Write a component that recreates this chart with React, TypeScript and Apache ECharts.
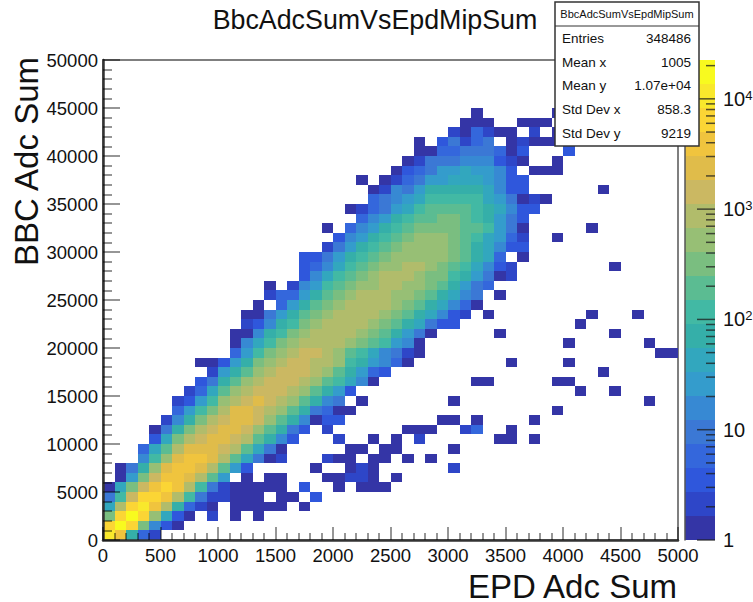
import React, { useEffect, useRef } from "react";
import * as echarts from "echarts";

const FONT = "'Liberation Sans', Arial, sans-serif";
const chartTitle = "BbcAdcSumVsEpdMipSum";
const xTitle = "EPD Adc Sum";
const yTitle = "BBC Adc Sum";
const statLabels = ["Entries", "Mean x", "Mean y", "Std Dev x", "Std Dev y"];
const statValues = ["348486", "1005", "1.07e+04", "858.3", "9219"];

const BIN_X = 100;
const BIN_Y = 1000;
const Z_MAX = 22500;
const LEVELS = 20;

const palette = [
  "#3435A6", "#2E46C8", "#2F57DC", "#3467DC", "#3B78D5", "#3789D3", "#349CCC",
  "#32A7BE", "#35AFA9", "#42B9A4", "#5BBC92", "#7ABE80", "#97BF75", "#B1BC6B",
  "#CBB862", "#E0BC4A", "#F0C43E", "#FBD535", "#F9E82C", "#F8FA1F",
];

// Each row lists segments [first column, colour level of each following bin]
const r00 = [[0, 18, 16, 8, 3, 1]];
const r01 = [[0, 17, 19, 17, 11, 5, 2, 0]];
const r02 = [[0, 11, 17, 19, 17, 12, 7, 2, 0], [9, 1], [11, 0], [13, 0]];
const r03 = [[0, 7, 13, 17, 18, 16, 13, 8, 3, 1, 0], [11, 0, 0, 0, 0, 0], [17, 0]];
const r04 = [[0, 4, 9, 14, 17, 17, 16, 13, 9, 4, 1, 1, 0, 0, 0], [15, 0, 0], [18, 2]];
const r05 = [[0, 0, 7, 11, 14, 16, 17, 16, 13, 9, 4, 1, 0, 0, 0, 0, 0], [17, 2], [20, 0], [22, 0, 0, 0]];
const r06 = [[1, 0, 6, 11, 14, 16, 16, 15, 13, 10, 6], [12, 0], [14, 0, 0], [19, 0, 0, 1, 1, 0], [25, 0]];
const r07 = [[1, 0, 4, 8, 12, 15, 16, 16, 15, 13, 10, 6, 2], [18, 0], [21, 0, 1, 0], [30, 1]];
const r08 = [[3, 5, 9, 12, 15, 16, 16, 15, 13, 10, 7, 4, 0, 1], [19, 1, 0, 0], [23, 0, 0], [26, 0], [28, 0]];
const r09 = [[3, 3, 7, 10, 13, 15, 15, 15, 14, 13, 10, 7, 4, 0], [21, 0, 0], [24, 0, 0], [30, 0]];
const r10 = [[4, 2, 7, 11, 13, 14, 15, 15, 14, 13, 10, 8, 5, 2], [20, 1], [23, 0], [25, 0], [27, 1], [34, 0, 0], [37, 0]];
const r11 = [[4, 0, 4, 8, 11, 13, 14, 15, 15, 14, 12, 10, 8, 4, 2], [19, 1], [26, 0, 0, 0], [31, 1, 3], [35, 0]];
const r12 = [[5, 1, 5, 8, 11, 13, 14, 15, 15, 14, 12, 10, 8, 5, 0, 2, 2], [29, 0, 0], [32, 0], [37, 0]];
const r13 = [[6, 3, 6, 9, 11, 13, 15, 15, 14, 13, 12, 10, 8, 4, 3, 0, 0], [39, 0]];
const r14 = [[6, 1, 2, 6, 9, 12, 13, 14, 15, 14, 13, 12, 10, 8, 5, 4], [22, 0], [30, 0], [47, 0]];
const r15 = [[7, 1, 3, 7, 10, 12, 13, 14, 14, 14, 13, 12, 10, 8, 6, 2], [41, 0], [44, 0]];
const r16 = [[8, 2, 4, 8, 10, 12, 13, 14, 14, 14, 13, 12, 10, 9, 7, 5, 0], [32, 0, 0], [39, 0, 0]];
const r17 = [[9, 1, 6, 8, 10, 12, 13, 14, 14, 14, 13, 12, 10, 8, 6, 3, 2], [43, 0]];
const r18 = [[8, 0, 0, 2, 6, 8, 11, 12, 13, 14, 14, 13, 13, 12, 9, 8, 6, 5, 3, 0], [35, 0], [40, 0]];
const r19 = [[11, 3, 6, 9, 11, 12, 13, 14, 14, 13, 12, 10, 9, 7, 5, 4, 1, 0], [48, 0, 0]];
const r20 = [[11, 0, 5, 7, 9, 11, 12, 13, 13, 13, 13, 12, 11, 10, 9, 6, 5, 0], [40, 0], [47, 0]];
const r21 = [[11, 0, 0, 5, 8, 9, 11, 12, 13, 13, 13, 13, 12, 11, 10, 8, 6, 4, 0], [34, 0], [44, 0]];
const r22 = [[12, 1, 2, 5, 8, 9, 11, 12, 13, 13, 13, 13, 12, 11, 10, 8, 7, 4, 2, 2], [41, 0]];
const r23 = [[12, 0, 0, 4, 6, 8, 10, 11, 12, 13, 13, 13, 13, 12, 11, 10, 8, 7, 5, 2, 1], [33, 0], [42, 0], [46, 0]];
const r24 = [[13, 0], [15, 3, 6, 8, 10, 11, 12, 13, 13, 13, 13, 12, 11, 10, 8, 7, 5, 3, 0]];
const r25 = [[14, 1, 3, 3, 6, 8, 10, 11, 12, 13, 13, 13, 12, 12, 11, 10, 8, 7, 5, 4], [34, 0]];
const r26 = [[14, 0], [16, 1, 5, 6, 9, 10, 11, 12, 12, 13, 13, 12, 12, 11, 10, 8, 6, 4, 3]];
const r27 = [[17, 2, 5, 7, 9, 10, 11, 12, 13, 13, 13, 12, 11, 11, 9, 8, 6, 4, 0, 1]];
const r28 = [[17, 2, 3, 5, 7, 9, 10, 11, 12, 12, 13, 13, 12, 11, 10, 9, 7, 5, 2, 1], [44, 0]];
const r29 = [[17, 2, 2, 4, 6, 8, 9, 10, 11, 12, 12, 12, 12, 12, 11, 10, 8, 7, 3], [36, 0]];
const r30 = [[19, 1, 4, 6, 8, 9, 10, 11, 12, 12, 12, 12, 11, 10, 8, 7, 5, 2, 2]];
const r31 = [[20, 2, 5, 6, 8, 9, 10, 11, 12, 12, 12, 11, 10, 9, 7, 6, 3, 1], [39, 0]];
const r32 = [[19, 0], [21, 3, 5, 6, 8, 9, 10, 11, 11, 11, 11, 10, 10, 9, 6, 4, 0], [42, 0]];
const r33 = [[22, 3, 5, 6, 8, 9, 10, 10, 11, 11, 10, 9, 8, 6, 4, 2]];
const r34 = [[21, 0, 1, 3, 4, 6, 7, 9, 10, 10, 10, 10, 9, 8, 7, 5, 2, 2]];
const r35 = [[23, 3, 4, 5, 6, 7, 9, 9, 9, 9, 9, 7, 6, 4, 0, 1, 0]];
const r36 = [[23, 0, 1, 5, 4, 6, 8, 8, 8, 8, 8, 7, 5, 2, 2], [43, 0]];
const r37 = [[22, 0], [24, 0, 1, 3, 4, 6, 6, 7, 7, 7, 6, 5, 2, 2]];
const r38 = [[25, 0, 2, 3, 4, 6, 6, 7, 6, 6, 5, 2], [37, 0, 0, 0]];
const r39 = [[26, 0, 1, 4, 4, 4, 5, 5, 5, 2, 1, 0], [39, 0]];
const r40 = [[27, 0, 0, 3, 3, 4, 4, 4, 3, 0, 2], [40, 2]];
const r41 = [[27, 0], [29, 2, 4, 1, 3, 4], [35, 0, 1, 0, 0, 0]];
const r42 = [[30, 1, 0, 3, 1, 0, 0], [37, 1], [39, 0]];
const r43 = [[31, 0, 0, 0], [36, 0, 0, 0]];
const r44 = [[32, 0], [39, 0]];

const rows = [
  r00, r01, r02, r03, r04, r05, r06, r07, r08, r09, r10, r11, r12, r13, r14,
  r15, r16, r17, r18, r19, r20, r21, r22, r23, r24, r25, r26, r27, r28, r29,
  r30, r31, r32, r33, r34, r35, r36, r37, r38, r39, r40, r41, r42, r43, r44,
];

const step = Math.log10(Z_MAX) / LEVELS;
const levelCount = (b: number) => Math.round(Math.pow(10, (b + 0.5) * step));
const countLevel = (c: number) => Math.min(LEVELS - 1, Math.floor(Math.log10(c) / step));

const cells: number[][] = [];
rows.forEach((segments, r) => {
  segments.forEach((seg) => {
    seg.slice(1).forEach((b, i) => {
      cells.push([(seg[0] + i) * BIN_X, r * BIN_Y, levelCount(b)]);
    });
  });
});

const bands = palette.map((_, i) => [Math.pow(10, i * step), Math.pow(10, (i + 1) * step), i]);
const zTicks = [
  1, 2, 3, 4, 5, 6, 7, 8, 9, 10, 20, 30, 40, 50, 60, 70, 80, 90, 100, 200, 300, 400, 500, 600, 700,
  800, 900, 1000, 2000, 3000, 4000, 5000, 6000, 7000, 8000, 9000, 10000, 20000,
];

export default function App() {
  const ref = useRef<HTMLDivElement>(null);
  useEffect(() => {
    const chart = echarts.init(ref.current!, undefined, { renderer: "svg" });
    const statText: any[] = [];
    const rowY = [38, 62, 85, 109, 133];
    statLabels.forEach((t, i) => {
      statText.push({
        type: "text", z: 101, x: 562, y: rowY[i],
        style: { text: t, fontSize: 13.5, fontFamily: FONT, fill: "#111", align: "left", verticalAlign: "middle" },
      });
      statText.push({
        type: "text", z: 101, x: 691, y: rowY[i],
        style: { text: statValues[i], fontSize: 13.5, fontFamily: FONT, fill: "#111", align: "right", verticalAlign: "middle" },
      });
    });
    chart.setOption({
      animation: false,
      backgroundColor: "#ffffff",
      title: {
        text: chartTitle,
        left: 370,
        top: 1,
        textAlign: "center",
        textStyle: { fontSize: 26.8, fontWeight: "normal", fontFamily: FONT, color: "#111" },
      },
      grid: [
        { left: 103, top: 60, width: 575, height: 480, show: true, borderColor: "#555", borderWidth: 1.5, backgroundColor: "#fff", outerBoundsMode: "none", containLabel: false },
        { left: 685, top: 60, width: 30, height: 480, outerBoundsMode: "none", containLabel: false },
      ],
      xAxis: [
        {
          type: "value", min: 0, max: 5000, interval: 500, gridIndex: 0, z: 10,
          axisLine: { lineStyle: { color: "#333", width: 2.5 } },
          axisTick: { inside: true, length: 13, lineStyle: { color: "rgba(0,0,0,0.55)", width: 1.5 } },
          minorTick: { show: true, splitNumber: 5, length: 7, lineStyle: { color: "rgba(0,0,0,0.55)", width: 1.5 } },
          splitLine: { show: false },
          axisLabel: { fontSize: 18.5, fontFamily: FONT, color: "#111", margin: 6, showMaxLabel: true, showMinLabel: true, formatter: (v: number) => String(v) },
        },
        { type: "value", min: 0, max: 1, gridIndex: 1, show: false },
      ],
      yAxis: [
        {
          type: "value", min: 0, max: 50000, interval: 5000, gridIndex: 0, z: 10,
          axisLine: { show: true, lineStyle: { color: "#333", width: 2.5 } },
          axisTick: { show: true, inside: true, length: 17, lineStyle: { color: "rgba(0,0,0,0.55)", width: 1.5 } },
          minorTick: { show: true, splitNumber: 5, length: 9, lineStyle: { color: "rgba(0,0,0,0.55)", width: 1.5 } },
          splitLine: { show: false },
          axisLabel: { fontSize: 18.5, fontFamily: FONT, color: "#111", margin: 5, showMaxLabel: true, showMinLabel: true, formatter: (v: number) => String(v) },
        },
        {
          type: "log", logBase: 10, min: 1, max: Z_MAX, gridIndex: 1, position: "right", z: 10,
          axisLine: { show: true, lineStyle: { color: "#555", width: 1.5 } },
          axisTick: { show: false },
          splitLine: { show: false },
          axisLabel: {
            fontSize: 20, fontFamily: FONT, color: "#111", margin: 8, align: "left",
            formatter: (v: number) => {
              const e = Math.log10(v);
              if (Math.abs(e - Math.round(e)) > 1e-6) return "";
              const n = Math.round(e);
              if (n === 0) return "1";
              if (n === 1) return "10";
              return `10{s|${n}}`;
            },
            rich: { s: { fontSize: 13, fontFamily: FONT, color: "#111", verticalAlign: "top", padding: [0, 0, 6, 0] } },
          },
        },
      ],
      series: [
        {
          type: "custom",
          xAxisIndex: 0,
          yAxisIndex: 0,
          z: 2,
          data: cells,
          renderItem: (_: any, api: any) => {
            const x = api.value(0), y = api.value(1);
            const a = api.coord([x, y]);
            const b = api.coord([x + BIN_X, y + BIN_Y]);
            const x0 = Math.round(a[0]), x1 = Math.round(b[0]);
            const y0 = Math.round(b[1]), y1 = Math.round(a[1]);
            return {
              type: "rect",
              shape: { x: x0, y: y0, width: x1 - x0, height: y1 - y0 },
              style: { fill: palette[countLevel(api.value(2))] },
            };
          },
        },
        {
          type: "custom",
          xAxisIndex: 1,
          yAxisIndex: 1,
          z: 2,
          data: bands,
          renderItem: (_: any, api: any) => {
            const a = api.coord([0, api.value(0)]);
            const b = api.coord([1, api.value(1)]);
            const y0 = Math.round(b[1]), y1 = Math.round(a[1]);
            return {
              type: "rect",
              shape: { x: a[0], y: y0, width: b[0] - a[0], height: y1 - y0 },
              style: { fill: palette[api.value(2)] },
            };
          },
        },
        {
          type: "custom",
          xAxisIndex: 1,
          yAxisIndex: 1,
          z: 3,
          data: zTicks.map((v) => [1, v]),
          renderItem: (_: any, api: any) => {
            const v = api.value(1);
            const p = api.coord([1, v]);
            const e = Math.log10(v);
            const major = Math.abs(e - Math.round(e)) < 1e-6;
            return {
              type: "line",
              shape: { x1: p[0] - (major ? 18 : 9), y1: p[1], x2: p[0], y2: p[1] },
              style: { stroke: "rgba(30,30,30,0.75)", lineWidth: 1.5 },
            };
          },
        },
      ],
      graphic: [
        {
          type: "text", z: 50, x: 677, y: 586,
          style: { text: xTitle, fontSize: 33, lineHeight: 28, fontFamily: FONT, fill: "#111", align: "right", verticalAlign: "middle" },
        },
        {
          type: "text", z: 50, x: 26, y: 57, rotation: Math.PI / 2,
          style: { text: yTitle, fontSize: 33, fontFamily: FONT, fill: "#111", align: "right", verticalAlign: "middle" },
        },
        {
          type: "rect", z: 100,
          shape: { x: 555, y: 2, width: 144, height: 144 },
          style: { fill: "#fff", stroke: "#333", lineWidth: 1.5 },
        },
        { type: "line", z: 101, shape: { x1: 555, y1: 26, x2: 699, y2: 26 }, style: { stroke: "#333", lineWidth: 1 } },
        {
          type: "text", z: 101, x: 627, y: 14,
          style: { text: chartTitle, fontSize: 11, fontFamily: FONT, fill: "#111", align: "center", verticalAlign: "middle" },
        },
        ...statText,
      ],
    });
    return () => chart.dispose();
  }, []);
  return <div ref={ref} style={{ position: "fixed", left: 0, top: 0, width: 753, height: 602 }} />;
}
